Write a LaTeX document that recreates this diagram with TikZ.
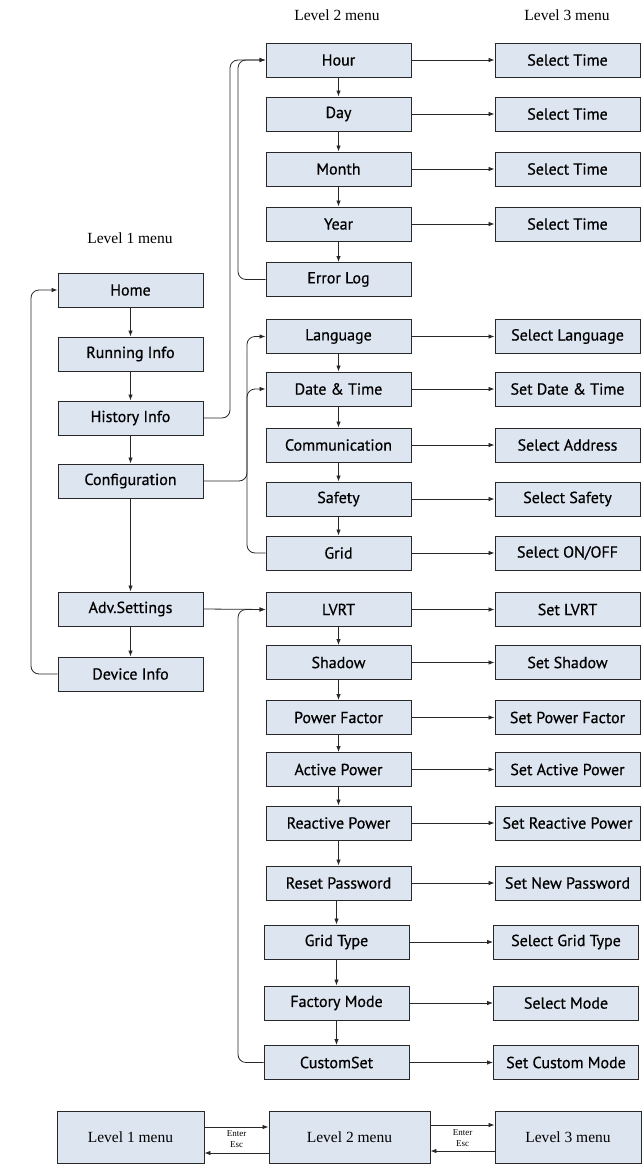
\documentclass[tikz,border=0pt]{standalone}
\usepackage{fontspec}
\setmainfont{Liberation Serif}
\newfontfamily\boxfont{PT Sans}[RawFeature={embolden=0.6}]
\usetikzlibrary{arrows.meta}
\definecolor{boxfill}{RGB}{221,229,240}
\definecolor{lineclr}{RGB}{40,40,40}
\begin{document}
\begin{tikzpicture}[x=1pt,y=-1pt,
  mbox/.style={draw=lineclr,line width=0.9pt,fill=boxfill,minimum width=145pt,minimum height=34pt,inner sep=0pt,font=\boxfont\fontsize{16}{18}\selectfont},
  lbox/.style={draw=lineclr,line width=0.9pt,fill=boxfill,inner sep=0pt,font=\fontsize{15.5}{18}\selectfont},
  hdr/.style={font=\fontsize{15.5}{17}\selectfont},
  small/.style={font=\fontsize{9}{9}\selectfont,inner sep=0pt},
  conn/.style={draw=lineclr,line width=0.8pt,-{Latex[length=6pt,width=4.5pt]}},
  plain/.style={draw=lineclr,line width=0.8pt},
  rc/.style={rounded corners=8pt}]
\useasboundingbox (0,0) rectangle (642,1164);

% headers
\node[hdr] (h2) at (337,15) {Level 2 menu};
\node[hdr] (h3) at (567,15) {Level 3 menu};
\node[hdr] (h1) at (130,238) {Level 1 menu};

% level 1
\node[mbox] (home) at (130.5,290) {Home};
\node[mbox] (run) at (130.5,354) {Running Info};
\node[mbox] (hist) at (130.5,418) {History Info};
\node[mbox] (conf) at (130.5,481) {Configuration};
\node[mbox] (adv) at (130.5,609) {Adv.Settings};
\node[mbox] (dev) at (130.5,674) {Device Info};

% level 2
\node[mbox] (hour) at (338.5,60) {Hour};
\node[mbox] (day) at (338.5,114) {Day};
\node[mbox] (month) at (338.5,169) {Month};
\node[mbox] (year) at (338.5,224) {Year};
\node[mbox] (err) at (338.5,279.5) {Error Log};
\node[mbox] (lang) at (338.5,336.5) {Language};
\node[mbox] (date) at (338.5,389) {Date \& Time};
\node[mbox] (comm) at (338.5,445) {Communication};
\node[mbox] (safe) at (338.5,499) {Safety};
\node[mbox] (grid) at (338.5,553) {Grid};
\node[mbox] (lvrt) at (338.5,609.5) {LVRT};
\node[mbox] (shad) at (338.5,662.5) {Shadow};
\node[mbox] (pf) at (338.5,717.5) {Power Factor};
\node[mbox] (ap) at (338.5,769.5) {Active Power};
\node[mbox] (rp) at (338.5,823) {Reactive Power};
\node[mbox] (rpw) at (338.5,883) {Reset Password};
\node[mbox] (gt) at (336.5,942) {Grid Type};
\node[mbox] (fm) at (336.5,1003) {Factory Mode};
\node[mbox] (cs) at (336.5,1062.5) {CustomSet};

% level 3
\node[mbox] (s1) at (567.5,60) {Select Time};
\node[mbox] (s2) at (567.5,114) {Select Time};
\node[mbox] (s3) at (567.5,169) {Select Time};
\node[mbox] (s4) at (567.5,224) {Select Time};
\node[mbox] (s5) at (567.5,336.5) {Select Language};
\node[mbox] (s6) at (567.5,389) {Set Date \& Time};
\node[mbox] (s7) at (567.5,445) {Select Address};
\node[mbox] (s8) at (567.5,499) {Select Safety};
\node[mbox] (s9) at (567.5,553) {Select ON/OFF};
\node[mbox] (s10) at (567.5,609.5) {Set LVRT};
\node[mbox] (s11) at (567.5,662.5) {Set Shadow};
\node[mbox] (s12) at (567.5,717.5) {Set Power Factor};
\node[mbox] (s13) at (567.5,769.5) {Set Active Power};
\node[mbox] (s14) at (567.5,823) {Set Reactive Power};
\node[mbox] (s15) at (567.5,883) {Set New Password};
\node[mbox] (s16) at (566,942) {Select Grid Type};
\node[mbox] (s17) at (566,1003) {Select Mode};
\node[mbox] (s18) at (566,1062.5) {Set Custom Mode};

% level 1 vertical
\draw[conn] (home) -- (run);
\draw[conn] (run) -- (hist);
\draw[conn] (hist) -- (conf);
\draw[conn] (conf) -- (adv);
\draw[conn] (adv) -- (dev);
\draw[conn,rc] (dev.west) -- (31,674) -- (31,290) -- (home.west);

% level 2 vertical
\foreach \a/\b in {hour/day,day/month,month/year,year/err,lang/date,date/comm,comm/safe,safe/grid,lvrt/shad,shad/pf,pf/ap,ap/rp,rp/rpw}
  \draw[conn] (\a) -- (\b);
\draw[conn] (rpw.south -| gt.south) -- (gt.north);
\draw[conn] (gt) -- (fm);
\draw[conn] (fm) -- (cs);

% level 2 -> level 3
\foreach \a/\b in {hour/s1,day/s2,month/s3,year/s4,lang/s5,date/s6,comm/s7,safe/s8,grid/s9,lvrt/s10,shad/s11,pf/s12,ap/s13,rp/s14,rpw/s15,gt/s16,fm/s17,cs/s18}
  \draw[conn] (\a) -- (\b);

% level 1 -> level 2
\draw[conn,rc] (hist.east) -- (230,418) -- (230,60) -- (hour.west);
\draw[conn,rc] (err.west) -- (238,279.5) -- (238,60) -- (hour.west);
\draw[conn,rc] (conf.east) -- (247,481) -- (247,389) -- (date.west);
\draw[conn,rc] (grid.west) -- (247,553) -- (247,336.5) -- (lang.west);
\draw[conn] (adv.east) -- (lvrt.west);
\draw[conn,rc] (cs.west) -- (238,1062.5) -- (238,609.5) -- (lvrt.west);

% legend
\node[lbox,minimum width=147pt,minimum height=52pt] (l1) at (130.5,1137) {Level 1 menu};
\node[lbox,minimum width=161pt,minimum height=52pt] (l2) at (349.5,1137) {Level 2 menu};
\node[lbox,minimum width=146pt,minimum height=52pt] (l3) at (568,1137) {Level 3 menu};
\draw[conn] (l1.east |- 0,1127) -- (l2.west |- 0,1127);
\draw[conn] (l2.west |- 0,1153) -- (l1.east |- 0,1153);
\draw[conn] (l2.east |- 0,1125) -- (l3.west |- 0,1125);
\draw[conn] (l3.west |- 0,1151) -- (l2.east |- 0,1151);
\node[small] (e1) at (236.5,1134) {Enter};
\node[small] (x1) at (236.5,1145) {Esc};
\node[small] (e2) at (462.5,1133) {Enter};
\node[small] (x2) at (462.5,1144) {Esc};
\end{tikzpicture}
\end{document}
